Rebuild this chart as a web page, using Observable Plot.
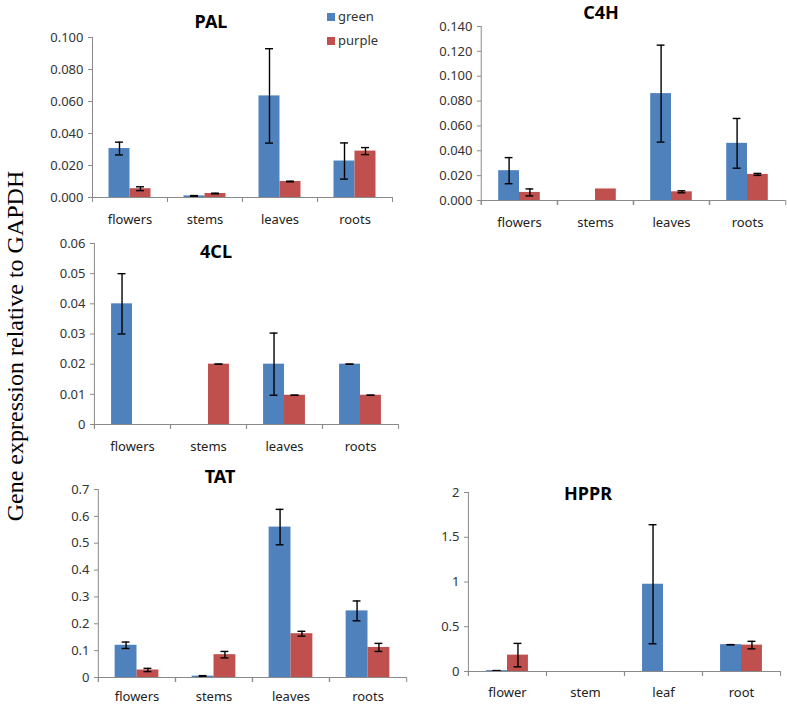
<!DOCTYPE html>
<html>
<head>
<meta charset="utf-8">
<script src="https://cdn.jsdelivr.net/npm/d3@7"></script>
<script src="https://cdn.jsdelivr.net/npm/@observablehq/plot@0.6"></script>
<style>
  body { margin: 0; background: #fff; }
  #root { position: relative; width: 787px; height: 706px; overflow: hidden; font-family: "Noto Sans", sans-serif; background: #fff; }
  .panel { position: absolute; }
  .title { position: absolute; font-weight: bold; font-size: 18px; color: #000; transform: translate(-50%, -50%); white-space: nowrap; line-height: 1; }
  .leg-sw { position: absolute; width: 8px; height: 8px; }
  .leg-tx { position: absolute; font-size: 13px; color: #333; line-height: 1; transform: translateY(-50%); white-space: nowrap; }
  .ylab { position: absolute; font-family: "Liberation Serif", "Times New Roman", serif; font-size: 24px; color: #000; line-height: 1; white-space: nowrap; transform: translate(-50%, -50%) rotate(-90deg); }
</style>
</head>
<body>
<div id="root"></div>
<script>
// ---------- data ----------
const seriesNames = ["green", "purple"];
const seriesColors = ["#4F81BD", "#C0504D"];
const yAxisLabel = "Gene expression relative to GAPDH";

// PAL
const palCategories = ["flowers", "stems", "leaves", "roots"];
const palGreen = [0.0306, 0.0010, 0.0635, 0.0228];
const palGreenErr = [0.0040, 0.0002, 0.0295, 0.0113];
const palPurple = [0.0055, 0.0025, 0.0100, 0.0290];
const palPurpleErr = [0.0012, 0.0002, 0.0002, 0.0022];
const palTicks = [0, 0.02, 0.04, 0.06, 0.08, 0.1];

// C4H
const c4hCategories = ["flowers", "stems", "leaves", "roots"];
const c4hGreen = [0.0240, 0, 0.0860, 0.0460];
const c4hGreenErr = [0.0105, null, 0.0390, 0.0200];
const c4hPurple = [0.0065, 0.0093, 0.0070, 0.0210];
const c4hPurpleErr = [0.0028, null, 0.0008, 0.0008];
const c4hTicks = [0, 0.02, 0.04, 0.06, 0.08, 0.1, 0.12, 0.14];

// 4CL
const cl4Categories = ["flowers", "stems", "leaves", "roots"];
const cl4Green = [0.040, 0, 0.020, 0.020];
const cl4GreenErr = [0.010, null, 0.0103, 0];
const cl4Purple = [0, 0.020, 0.0097, 0.0097];
const cl4PurpleErr = [null, 0, 0, 0];
const cl4Ticks = [0, 0.01, 0.02, 0.03, 0.04, 0.05, 0.06];

// TAT
const tatCategories = ["flowers", "stems", "leaves", "roots"];
const tatGreen = [0.120, 0.005, 0.560, 0.248];
const tatGreenErr = [0.012, 0.002, 0.066, 0.037];
const tatPurple = [0.028, 0.085, 0.163, 0.112];
const tatPurpleErr = [0.006, 0.012, 0.009, 0.015];
const tatTicks = [0, 0.1, 0.2, 0.3, 0.4, 0.5, 0.6, 0.7];

// HPPR
const hpprCategories = ["flower", "stem", "leaf", "root"];
const hpprGreen = [0.010, 0, 0.975, 0.300];
const hpprGreenErr = [0, null, 0.665, 0];
const hpprPurple = [0.183, 0, 0, 0.295];
const hpprPurpleErr = [0.131, null, null, 0.042];
const hpprTicks = [0, 0.5, 1, 1.5, 2];

// ---------- helpers ----------
function buildRows(cats, g, gE, p, pE) {
  const rows = [];
  cats.forEach((c, i) => {
    rows.push({category: c, series: seriesNames[0], value: g[i], err: gE[i]});
    rows.push({category: c, series: seriesNames[1], value: p[i], err: pE[i]});
  });
  return rows;
}
const colorOf = s => seriesColors[seriesNames.indexOf(s)];

const root = document.getElementById("root");

function makePanel(cfg) {
  const {cats, rows, ticks, fmt, left, top, width, height, ml, mr, mt, mb, title, tx, ty} = cfg;
  const barW = cfg.barW || 21;
  const labelPad = cfg.labelPad || 17;
  const capW = 8;
  const axisGray = "#8a8a8a";
  const innerW = width - ml - mr;
  const innerH = height - mt - mb;
  const step = innerW / cats.length;
  const po = (step / barW - 2) / 2;
  const ymax = ticks[ticks.length - 1];
  const tickLen = -ymax * 5 / innerH;
  const errRows = rows.filter(d => d.err != null);
  const edgeOffset = po * barW + barW / 2;
  const edges = cats.map(c => ({category: c}));
  const firstEdge = [{category: cats[0]}];

  const chart = Plot.plot({
    width, height,
    marginLeft: ml, marginRight: mr, marginTop: mt, marginBottom: mb,
    style: {fontFamily: "'Noto Sans', sans-serif", fontSize: "13px", color: "#333", background: "transparent", overflow: "visible"},
    fx: {domain: cats, padding: 0, label: null},
    x: {domain: seriesNames, paddingInner: 0, paddingOuter: po, axis: null, round: false},
    y: {domain: [0, ymax], label: null},
    marks: [
      Plot.barY(rows, {fx: "category", x: "series", y: "value", fill: d => colorOf(d.series)}),
      Plot.ruleX(errRows, {fx: "category", x: "series", y1: d => d.value - d.err, y2: d => d.value + d.err, stroke: "#000", strokeWidth: 1.4}),
      Plot.tickY(errRows, {fx: "category", x: "series", y: d => d.value - d.err, stroke: "#000", strokeWidth: 1.4, insetLeft: (barW - capW) / 2, insetRight: (barW - capW) / 2}),
      Plot.tickY(errRows, {fx: "category", x: "series", y: d => d.value + d.err, stroke: "#000", strokeWidth: 1.4, insetLeft: (barW - capW) / 2, insetRight: (barW - capW) / 2}),
      Plot.ruleY([0], {stroke: axisGray, strokeWidth: 1}),
      Plot.ruleX(edges, {fx: "category", x: () => seriesNames[0], y1: 0, y2: tickLen, dx: -edgeOffset, stroke: axisGray, strokeWidth: 1}),
      Plot.ruleX(edges, {fx: "category", x: () => seriesNames[1], y1: 0, y2: tickLen, dx: edgeOffset, stroke: axisGray, strokeWidth: 1}),
      Plot.ruleX(firstEdge, {fx: "category", x: () => seriesNames[0], y1: tickLen, y2: ymax, dx: -edgeOffset, stroke: axisGray, strokeWidth: 1}),
      Plot.axisY({ticks, tickFormat: fmt, tickSize: 4, tickPadding: 5, stroke: axisGray, fill: "#333", label: null, fontSize: 13}),
      Plot.axisFx({anchor: "bottom", tickSize: 0, tickPadding: labelPad, label: null, fill: "#222", fontSize: 13})
    ]
  });
  const wrap = document.createElement("div");
  wrap.className = "panel";
  wrap.style.left = left + "px";
  wrap.style.top = top + "px";
  wrap.appendChild(chart);
  root.appendChild(wrap);

  const t = document.createElement("div");
  t.className = "title";
  t.style.left = tx + "px";
  t.style.top = ty + "px";
  t.textContent = title;
  root.appendChild(t);
}

const fmt3 = d => d3.format(".3f")(d);
const fmtGen = d => String(+d.toFixed(3));

makePanel({title: "PAL", tx: 211, ty: 21, cats: palCategories,
  rows: buildRows(palCategories, palGreen, palGreenErr, palPurple, palPurpleErr),
  ticks: palTicks, fmt: fmt3, left: 0, top: 0, width: 400, height: 225, ml: 92, mr: 8, mt: 37, mb: 28});

makePanel({title: "C4H", tx: 601, ty: 12, cats: c4hCategories,
  rows: buildRows(c4hCategories, c4hGreen, c4hGreenErr, c4hPurple, c4hPurpleErr),
  ticks: c4hTicks, fmt: fmt3, left: 400, top: 0, width: 387, height: 230, ml: 79, mr: 1, mt: 26, mb: 30});

makePanel({title: "4CL", tx: 216, ty: 251, cats: cl4Categories,
  rows: buildRows(cl4Categories, cl4Green, cl4GreenErr, cl4Purple, cl4PurpleErr),
  ticks: cl4Ticks, fmt: fmtGen, left: 0, top: 220, width: 400, height: 230, ml: 93, mr: 2, mt: 23, mb: 26});

makePanel({title: "TAT", tx: 220, ty: 476, cats: tatCategories,
  rows: buildRows(tatCategories, tatGreen, tatGreenErr, tatPurple, tatPurpleErr),
  ticks: tatTicks, fmt: fmtGen, left: 0, top: 460, width: 410, height: 246, ml: 97, mr: 3, mt: 29, mb: 29, barW: 22, labelPad: 14});

makePanel({title: "HPPR", tx: 588, ty: 493, cats: hpprCategories,
  rows: buildRows(hpprCategories, hpprGreen, hpprGreenErr, hpprPurple, hpprPurpleErr),
  ticks: hpprTicks, fmt: fmtGen, left: 400, top: 460, width: 387, height: 246, ml: 67, mr: 7, mt: 32, mb: 35, labelPad: 16});

// legend
const legendPos = [{sx: 327, sy: 13, tx: 338, ty: 16}, {sx: 327, sy: 37, tx: 338, ty: 40}];
seriesNames.forEach((name, i) => {
  const sw = document.createElement("div");
  sw.className = "leg-sw";
  sw.style.left = legendPos[i].sx + "px";
  sw.style.top = legendPos[i].sy + "px";
  sw.style.background = seriesColors[i];
  root.appendChild(sw);
  const tx = document.createElement("div");
  tx.className = "leg-tx";
  tx.style.left = legendPos[i].tx + "px";
  tx.style.top = legendPos[i].ty + "px";
  tx.textContent = name;
  root.appendChild(tx);
});

// shared y label
const yl = document.createElement("div");
yl.className = "ylab";
yl.style.left = "15px";
yl.style.top = "346px";
yl.textContent = yAxisLabel;
root.appendChild(yl);
</script>
</body>
</html>
